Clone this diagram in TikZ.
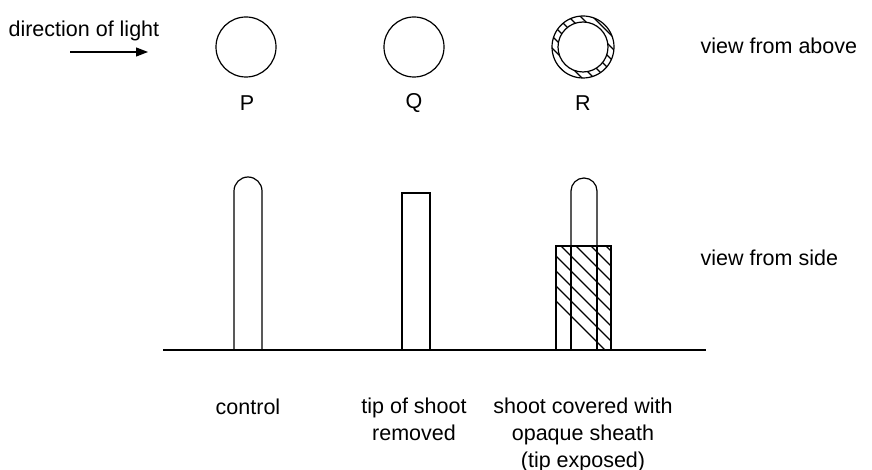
\documentclass[tikz,border=0pt]{standalone}
\usepackage{fontspec}
\setmainfont{Liberation Sans}
\usetikzlibrary{arrows.meta}
\begin{document}
\begin{tikzpicture}[x=1pt,y=-1pt,line width=1.2pt,
  lbl/.style={font=\fontsize{21.5}{27}\selectfont,align=center,inner sep=0pt}]
\useasboundingbox (0,0) rectangle (872,470);
% top circles
\node[circle,draw,minimum size=60,inner sep=0] (cp) at (246,47) {};
\node[circle,draw,minimum size=60,inner sep=0] (cq) at (414,47) {};
\begin{scope}[even odd rule]
\clip (583,47) circle (31) (583,47) circle (25);
\foreach \k in {-80,-68,...,80} \draw (583+\k-40,7) -- (583+\k+40,87);
\end{scope}
\node[circle,draw,minimum size=62,inner sep=0] (cr) at (583,47) {};
\node[circle,draw,minimum size=50,inner sep=0] (cri) at (583,47) {};
% light arrow
\node[lbl,anchor=west] (dl) at (8,31) {direction of light};
\coordinate (a1) at (70,52); \coordinate (a2) at (148,52);
\draw[-{Triangle[length=12pt,width=9pt]}] (a1) -- (a2);
\node[lbl,anchor=west] (va) at (700,46) {view from above};
\node[lbl] (p) at (247,103) {P};
\node[lbl] (q) at (414,103) {Q};
\node[lbl] (r) at (583,103) {R};
\node[lbl,anchor=west] (vs) at (700,258) {view from side};
% ground
\coordinate (g1) at (163,350); \coordinate (g2) at (706,350);
% stems
\draw (234,350) -- (234,191) arc[start angle=180,end angle=360,radius=14] -- (262,350);
\draw (402,350) -- (402,193) -- (430,193) -- (430,350);
\draw (571,246) -- (571,191) arc[start angle=180,end angle=360,radius=13] -- (597,246);
\begin{scope}
\clip (556,246) rectangle (611,350);
\foreach \k in {-110,-95,...,60} \draw (556,246+\k) -- (666,356+\k);
\end{scope}
\draw (556,350) -- (556,246) -- (611,246) -- (611,350);
\draw (571,246) -- (571,350); \draw (597,246) -- (597,350);
\draw (g1) -- (g2);
\node[lbl] (c1) at (248,407) {control};
\node[lbl,anchor=north] (c2) at (414,397) {tip of shoot\\removed};
\node[lbl,anchor=north] (c3) at (583,397) {shoot covered with\\opaque sheath\\(tip exposed)};
\end{tikzpicture}
\end{document}
